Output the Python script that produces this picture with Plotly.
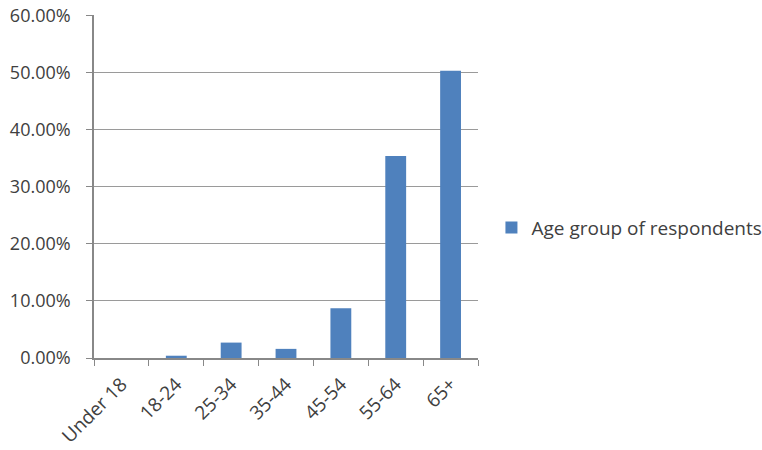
import plotly.graph_objects as go

categories = ["Under 18", "18-24", "25-34", "35-44", "45-54", "55-64", "65+"]
values = [0.0, 0.004, 0.027, 0.016, 0.087, 0.354, 0.503]
series_name = "Age group of respondents"

FONT = "Open Sans"
fig = go.Figure()
fig.add_trace(go.Bar(
    x=categories, y=values, name=series_name,
    marker=dict(color="#4F81BD", line=dict(width=0)),
    showlegend=True,
))

fig.update_layout(
    width=762, height=450,
    margin=dict(l=94, r=284, t=15, b=92, autoexpand=False),
    paper_bgcolor="white", plot_bgcolor="white",
    bargap=0.62,
    font=dict(family=FONT, size=18, color="#404040"),
    showlegend=True,
    legend=dict(x=1.035, y=0.38, xanchor="left", yanchor="middle",
                font=dict(family=FONT, size=19, color="#404040"),
                itemwidth=30, bgcolor="rgba(0,0,0,0)"),
    xaxis=dict(
        type="category", tickson="boundaries", ticks="outside", ticklen=6,
        tickcolor="#888888", showline=True, linecolor="#888888", linewidth=1.5,
        showgrid=False, tickangle=-45, automargin=False,
        ticklabelstandoff=6,
        tickfont=dict(family=FONT, size=19, color="#404040"),
    ),
    yaxis=dict(
        range=[0, 0.6008], tickvals=[0, 0.1, 0.2, 0.3, 0.4, 0.5, 0.6],
        tickformat=".2%",
        showline=True, linecolor="#888888", linewidth=1.5,
        ticks="outside", ticklen=6, tickcolor="#888888",
        showgrid=True, gridcolor="#9a9a9a", gridwidth=1,
        zeroline=False, automargin=False, ticklabelstandoff=12,
        tickfont=dict(family=FONT, size=18, color="#404040"),
    ),
)

fig.write_html("out.html")
